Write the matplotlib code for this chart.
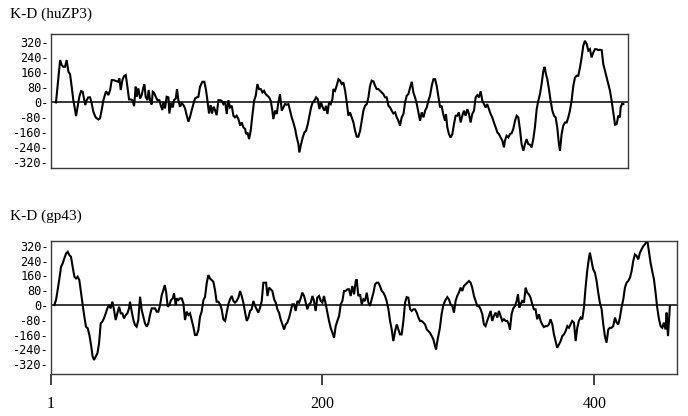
"""
Kyte-Doolittle hydropathy profiles: huZP3 vs gp43
"""
import matplotlib
matplotlib.use('Agg')
import matplotlib.pyplot as plt

# residue positions and K-D values
zp3_res = [4.9, 6.6, 7.9, 9.1, 10.3, 11.5, 12.7, 14.0, 15.2, 16.4, 17.6, 18.9, 19.6, 20.8, 22.0, 23.3, 24.5, 25.4,
           26.4, 27.4, 28.6, 29.9, 31.1, 32.3, 34.0, 36.0, 37.2, 38.4, 39.7, 41.6, 43.3, 44.6, 45.8, 47.0, 49.0,
           50.7, 51.4, 52.4, 53.6, 54.8, 56.1, 57.3, 58.5, 59.7, 61.0, 62.2, 63.4, 64.1, 65.3, 66.6, 67.8, 69.0,
           69.8, 70.7, 72.0, 72.9, 73.9, 75.1, 75.9, 76.8, 78.1, 79.3, 80.8, 81.7, 83.0, 83.7, 84.9, 86.1, 87.4,
           88.1, 89.3, 90.6, 91.5, 92.8, 93.7, 94.7, 95.9, 97.2, 98.4, 99.6, 100.8, 102.1, 103.3, 104.5, 105.7,
           106.9, 108.2, 109.4, 110.6, 112.3, 113.8, 115.0, 116.0, 117.2, 118.4, 119.4, 120.6, 121.6, 122.8,
           124.1, 125.3, 126.5, 127.7, 129.0, 130.2, 131.4, 132.6, 133.9, 135.1, 136.3, 137.5, 138.8, 140.0,
           141.2, 142.4, 143.7, 144.4, 145.4, 146.6, 147.8, 149.0, 150.3, 151.5, 152.7, 153.9, 155.2, 156.4,
           157.6, 158.8, 160.0, 161.3, 162.5, 163.7, 164.4, 165.7, 166.9, 168.1, 169.3, 170.6, 171.8, 173.0,
           174.2, 175.5, 176.7, 177.9, 179.1, 180.4, 181.6, 182.8, 183.5, 184.8, 186.0, 187.2, 188.4, 189.7,
           190.9, 192.1, 193.3, 194.5, 195.8, 197.0, 198.2, 199.4, 200.7, 201.9, 203.1, 204.1, 205.3, 206.5,
           207.8, 208.5, 209.7, 210.9, 212.2, 213.4, 214.6, 215.8, 217.1, 218.3, 219.5, 220.7, 221.9, 223.2,
           224.4, 225.6, 226.8, 228.1, 229.3, 230.5, 231.7, 233.0, 234.2, 235.4, 236.6, 237.9, 239.1, 240.3,
           241.5, 242.7, 244.0, 245.2, 246.4, 247.6, 248.9, 250.1, 251.3, 252.5, 253.8, 255.0, 256.2, 257.4,
           258.6, 259.9, 261.1, 262.3, 263.5, 264.8, 266.0, 267.2, 268.4, 269.7, 270.9, 272.1, 273.3, 274.6,
           275.8, 277.0, 278.2, 279.4, 280.7, 281.9, 283.1, 284.3, 285.6, 286.8,
           287.9, 289.1, 290.4, 291.1, 292.1, 293.3, 294.5, 295.8, 297.0, 298.2, 299.4, 300.6, 301.9, 303.1,
           304.3, 305.5, 306.8, 308.0, 309.2, 310.4, 311.7, 312.9, 314.1, 315.3, 316.6, 317.8, 319.0, 320.2,
           321.4, 322.7, 323.9, 325.1, 326.3, 327.6, 328.8, 330.0, 331.2, 332.5, 333.7, 334.4, 335.6, 336.9,
           338.1, 339.3, 340.5, 341.8, 343.0, 344.2, 345.4, 346.6, 347.9, 349.1, 350.3, 351.5, 352.8, 354.0,
           355.2, 356.4, 357.7, 358.9, 360.1, 361.3, 362.6, 363.5, 364.5, 365.5, 366.7, 367.9, 369.2, 370.4,
           371.6, 372.8, 374.0, 374.8, 376.0, 377.2, 378.5, 379.7, 380.9, 382.1, 383.3, 384.6, 385.8, 387.0,
           388.2, 389.5, 390.7, 391.9, 393.1, 394.4, 395.6, 396.8, 398.0, 399.3, 400.5, 401.7, 402.9, 404.1,
           405.4, 406.6, 407.8, 409.0, 410.3, 411.5, 412.7, 413.9, 415.2, 416.4, 417.6, 418.8, 419.3, 420.3,
           421.3]
zp3_kd = [0, 128, 226, 199, 190, 190, 226, 164, 151, 84, 12, -41, -73, -23, 30, 60, 57, 21,
          -14, 12, 27, 27, -5, -50, -80, -91, -85, -41, 12, 60, 39, 66, 119, 119, 114,
          110, 128, 66, 119, 140, 146, 84, 16, 16, 12, -20, 84, 30, 75, 21, 39, 80,
          96, 30, 12, 66, 12, -11, 57, 52, 30, 12, 12, -14, -41, 4, -32, 30, 27,
          -59, -5, -27, 12, 21, 71, 12, -23, -5, -14, -32, -68, -103, -76, -41, -9,
          21, 27, 30, 84, 110, 110, 66, 12, -59, -14, -59, -23, -41, -68,
          12, 12, 8, -9, 5, -62, 12, -27, -18, -71, -80, -71, -89, -124,
          -107, -133, -142, -169, -160, -196, -151, -71, 9, 36, 98, 71, 71, 53,
          62, 44, 36, 27, 9, -44, -89, -44, -62, 0, 44, -44, -27, -9,
          -12, -9, -44, -80, -107, -142, -187, -222, -267, -222, -187, -160, -151, -116,
          -71, -27, 0, 9, 27, 18, -36, 0, -27, -44, -18, -62, 0, -9,
          18, 71, 62, 89, 124, 116, 98, 107, 62, 0, -71, -53, -80, -107,
          -151, -183, -183, -151, -98, -44, -18, -9, 27, 89, 116, 112, 89, 71,
          71, 62, 53, 44, 27, 27, -18, -27, -44, -59, -53, -80, -98, -124,
          -80, -62, 0, 36, 44, 80, 110, 53, 27, -9, -53, -98, -53, -80,
          -44, -27, 9, 36, 89, 124, 124, 89, 27, -27,
          -18, -62, -98, -62, -133, -169, -187, -169, -116, -71, -71, -53, -107, -71,
          -44, -71, -36, -62, -107, -62, -44, 27, 39, 27, 59, 9, -9, -27,
          -9, -36, -62, -80, -107, -133, -160, -169, -187, -204, -240, -204, -178, -187,
          -169, -165, -142, -98, -71, -80, -142, -222, -258, -222, -196, -222, -226, -240,
          -196, -133, -36, 9, 44, 98, 169, 190, 151, 124, 71, 9, -44, -71,
          -80, -133, -222, -258, -169, -124, -107, -107, -80, -44, 9, 89, 133, 142,
          142, 187, 240, 302, 329, 311, 276, 284, 240, 267, 284, 284, 279, 281,
          279, 204, 169, 133, 98, 62, 9, -53, -119, -116, -71, -80, -27, -9,
          -9]

gp43_res = [3.7, 4.9, 6.1, 7.4, 8.6, 9.8, 11.0, 12.3, 13.5, 14.7, 15.9, 17.1, 18.4, 19.6, 20.8, 22.0, 23.3, 24.5,
            25.7, 26.9, 28.2, 29.4, 30.6, 31.8, 32.8, 34.0, 35.3, 36.5, 37.7, 38.9, 40.1, 41.4, 42.6, 43.8,
            45.0, 46.3, 47.5, 48.7, 49.9, 51.2, 52.4, 53.6, 54.8, 56.1, 57.3, 58.5, 59.2, 60.5, 61.7, 62.9,
            64.1, 65.3, 66.6, 67.8, 69.0, 70.2, 71.5, 72.7, 73.9, 75.1, 76.4, 77.6, 78.8, 80.0, 81.3, 82.5,
            83.7, 84.7, 85.7, 86.9, 88.1, 89.3, 90.6, 91.5, 92.8, 93.5, 94.7, 95.9, 97.2, 98.4, 99.6, 100.8,
            102.1, 103.3, 104.5, 105.7, 106.9, 108.2, 109.4, 110.6, 111.8, 113.1, 114.3, 115.5, 116.7, 117.9,
            119.2, 120.4, 121.6, 122.8, 124.1,
            125.3, 126.5, 127.7, 129.0, 130.2, 131.4, 132.6, 133.9, 135.1, 136.3, 137.5, 138.8, 140.0, 141.2,
            142.4, 143.7, 144.9, 146.1, 147.3, 148.5, 149.8, 151.0, 152.2, 153.4, 154.7, 155.9, 157.1, 158.3,
            159.1, 160.1, 161.3, 162.5, 163.7, 165.0, 166.2, 167.4, 168.6, 169.8, 171.1, 172.3, 173.5, 174.7,
            176.0, 177.2, 178.4, 179.6, 180.8, 182.1, 183.3, 184.5, 185.7, 187.0, 188.2, 189.4, 190.6, 191.9,
            193.1, 194.3, 195.5, 196.7, 198.0, 199.2, 200.4, 201.6, 202.9, 204.1, 205.3, 206.5, 207.8, 209.0,
            210.2, 211.4, 212.7, 213.9, 215.1, 216.3, 217.5, 218.8, 220.0, 221.2, 222.4, 223.7, 224.9, 225.6,
            226.8, 228.1, 229.3, 230.5, 231.7, 233.0, 234.2, 235.4, 236.6, 237.9, 239.1, 240.3, 241.5, 242.7,
            244.0, 245.2, 246.4, 247.6, 248.9, 250.1, 251.3, 252.5, 253.8, 255.0, 256.2, 257.4, 258.6, 259.9,
            261.1, 262.3, 263.5, 264.8, 266.0, 267.2, 268.4, 269.7, 270.9, 272.1, 273.3, 274.6, 275.8, 277.0,
            278.2, 279.4, 280.7, 281.9, 283.1, 283.9, 284.8,
            286.7, 287.9, 289.1, 290.4, 292.1, 293.3, 294.5, 295.8, 297.0, 298.2, 299.4, 300.6, 301.9, 303.1,
            304.3, 305.5, 306.8, 308.0, 309.2, 310.4, 311.7, 312.9, 314.1, 315.3, 316.6, 317.8, 319.0, 320.2,
            321.4, 322.7, 323.9, 325.1, 326.3, 327.6, 328.8, 330.0, 331.2, 332.5, 333.7, 334.9, 336.1, 337.3,
            338.1, 339.3, 340.5, 341.8, 343.0, 344.0, 345.0, 345.9, 347.1, 348.4, 349.6, 350.8, 352.0, 353.2,
            354.5, 355.7, 356.9, 358.1, 359.4, 360.6, 361.8, 363.0, 364.3, 365.5, 366.7, 367.9, 369.2, 370.4,
            371.6, 372.8, 374.1, 375.3, 376.5, 377.7, 379.0, 380.2, 381.4, 382.6, 383.8, 385.1, 386.3, 387.5,
            388.7, 390.0, 391.2, 392.4, 393.6, 394.8, 396.1, 396.8, 398.0, 399.2, 400.5, 401.7, 402.9, 404.1,
            405.4, 406.6, 407.8, 409.0, 410.3, 411.5, 412.7, 413.9, 415.2, 416.4, 417.6, 418.8, 420.0, 421.3,
            422.5, 423.7, 424.9, 426.2, 427.4, 428.6, 429.8, 431.1, 432.3, 433.5, 434.7, 436.0, 437.2, 438.4,
            439.1, 440.1, 441.3, 442.5, 443.8, 445.0, 446.2, 447.5, 448.7, 449.9, 451.1, 452.3, 453.1, 454.1,
            454.8, 455.5]
gp43_kd = [0, 27, 81, 144, 207, 225, 252, 279, 288, 270, 261, 207, 153, 144, 153, 135, 63, 0,
           -63, -117, -126, -162, -216, -279, -297, -279, -261, -207, -99, -90, -72, -45, -18, 0,
           -18, 18, -27, -81, -45, -9, -45, -45, -72, -54, -45, -18, 18, -36, -81, -108,
           -117, -81, 45, -27, -63, -99, -117, -99, -54, -18, -18, -18, -36, -36, 0, 54,
           81, 108, 72, -9, 0, 27, 36, 63, 0, 36, 27, 36, 36, 9, -81, -36,
           -54, -45, -81, -117, -162, -162, -135, -63, -36, 27, 45, 117, 162, 144,
           135, 126, 81, 18, 18,
           4, -23, -77, -86, -41, 4, 31, 49, 22, 13, 22, 40, 76, 49,
           13, -41, -86, -68, -32, -23, 22, -5, -23, -41, -14, 22, 121, 121,
           121, 49, 94, 85, 76, 31, 13, -23, -41, -77, -105, -132, -105, -95,
           -68, -32, 4, 4, -32, 22, 13, 36, 67, 49, 13, -23, 4, 13,
           49, 22, -32, 40, 49, 22, 13, 49, 4, -41, -86, -123, -150, -177,
           -114, -86, -59, 4, 22, 76, 76, 85, 85, 49, 103, 58, 130, 139,
           49, 58, 4, 31, 22, 67, 13, -5, 31, 67, 112, 121, 121, 103,
           76, 67, 49, 22, -23, -86, -132, -195, -141, -105, -132, -159, -159, -86,
           13, 43, 40, -23, -32, -23, -23, -41, -68, -86, -86, -95, -105, -132,
           -141, -150, -168, -186, -222, -240, -195,
           -123, -50, -5, 22, 43, 31, 4, -5, -41, 22, 49, 67, 94, 76,
           103, 112, 121, 130, 121, 94, 49, 22, -5, -5, -23, -50, -105, -114,
           -86, -59, -32, -86, -59, -41, -68, -32, -59, -86, -77, -86, -86, -105,
           -132, -50, -18, -5, 22, 58, -14, 4, 22, 13, 94, 67, 58, 40,
           4, -23, -23, -77, -50, -86, -105, -119, -114, -114, -105, -77, -105, -159,
           -195, -231, -213, -195, -168, -159, -141, -114, -123, -105, -86, -95, -195, -123,
           -86, -68, -77, -14, 94, 184, 256, 283, 238, 193, 175, 130, 67, 13,
           -23, -105, -168, -204, -132, -123, -123, -114, -68, -95, -105, -68, -14, 31,
           94, 121, 130, 148, 184, 238, 274, 265, 247, 283, 301, 319, 328, 346,
           342, 292, 229, 184, 139, 67, -14, -77, -114, -123, -95, -132, -41, -168,
           -86, -5]

y_ticks = [320, 240, 160, 80, 0, -80, -160, -240, -320]
x_ticks = [1, 200, 400]
titles = ['K-D (huZP3)', 'K-D (gp43)']

fig = plt.figure(figsize=(6.88, 4.16), dpi=100)

# axes boxes placed in figure coordinates (pixels / image size)
ax_top = fig.add_axes([50.7 / 688, 1 - 168 / 416, 577 / 688, 134 / 416])
ax_bot = fig.add_axes([50.7 / 688, 1 - 374 / 416, 626 / 688, 133.3 / 416])

panels = [
    (ax_top, zp3_res, zp3_kd, (1, 424.5), (-350, 365)),
    (ax_bot, gp43_res, gp43_kd, (1, 460.5), (-373, 348)),
]

for ax, res, kd, xlim, ylim in panels:
    ax.plot(res, kd, color='black', linewidth=1.5, solid_joinstyle='miter')
    ax.axhline(0, color='black', linewidth=1.1)
    ax.set_xlim(*xlim)
    ax.set_ylim(*ylim)
    for sp in ax.spines.values():
        sp.set_color('#3a3a3a')
        sp.set_linewidth(1.0)
    ax.set_yticks(y_ticks)
    ax.set_yticklabels([f'{v}-' for v in y_ticks], family='DejaVu Sans Mono', fontsize=8.6)
    ax.tick_params(axis='y', length=0, pad=1.5)

ax_top.set_xticks([])
ax_bot.set_xticks(x_ticks)
ax_bot.set_xticklabels([str(v) for v in x_ticks], family='Liberation Serif', fontsize=11.5)
ax_bot.tick_params(axis='x', direction='out', length=8, width=1.2, pad=8, color='#222222')

# panel titles
fig.text(10 / 688, 1 - 18.3 / 416, titles[0], family='Liberation Serif', fontsize=11,
         ha='left', va='baseline')
fig.text(10 / 688, 1 - 220.3 / 416, titles[1], family='Liberation Serif', fontsize=11,
         ha='left', va='baseline')

plt.savefig('out.png', dpi=100)
plt.close()
